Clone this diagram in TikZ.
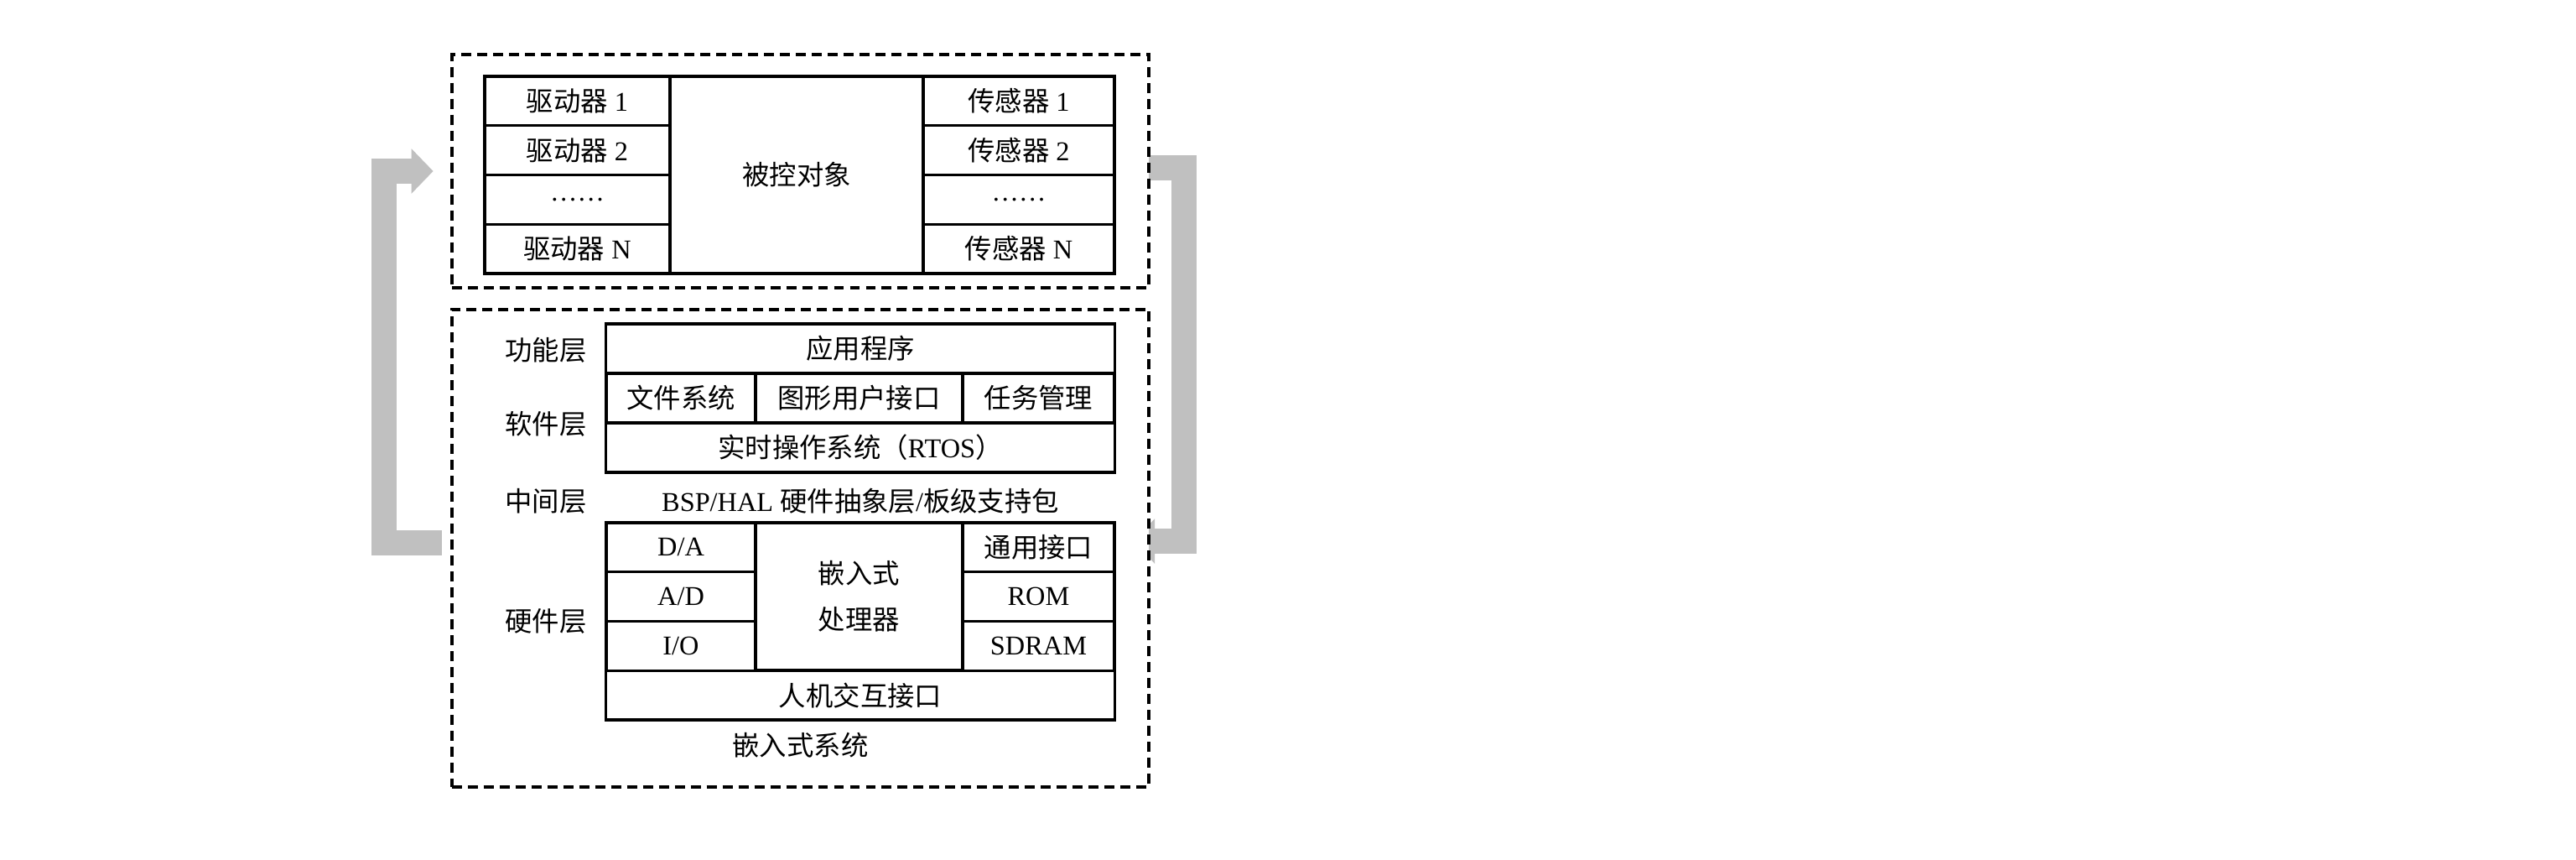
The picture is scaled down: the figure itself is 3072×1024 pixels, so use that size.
\documentclass[tikz,border=0pt]{standalone}
\usepackage{fontspec}
\setmainfont{Liberation Serif}
\newfontfamily\cjk{Noto Sans CJK SC}
\newcommand\zh[1]{{\cjk #1}}
\usetikzlibrary{arrows.meta}
\pgfdeclarelayer{background}
\pgfsetlayers{background,main}
\definecolor{flowgray}{HTML}{C0C0C0}
\begin{document}
\begin{tikzpicture}[x=0.01cm,y=-0.01cm,
  txt/.style={font=\fontsize{9.2}{15.6}\selectfont, inner sep=0pt, align=center},
  cell/.style={txt, draw, line width=0.9pt},
  wl/.style={minimum width=2.21cm},
  wm/.style={minimum width=3.02cm},
  wr/.style={minimum width=2.28cm},
  wa/.style={minimum width=1.78cm},
  wb/.style={minimum width=2.47cm},
  wc/.style={minimum width=1.81cm},
  wfull/.style={minimum width=6.06cm},
  hrow/.style={minimum height=0.5875cm},
  dbox/.style={draw, fill=white, line width=1.2pt, dash pattern=on 3.4pt off 2pt, minimum width=8.31cm},
  flow/.style={draw=flowgray, line width=0.3cm, line join=miter, -{Triangle[length=0.26cm,width=0.52cm]}}
]
\begin{pgfonlayer}{background}
\fill[white] (0,0) rectangle (3072,1024);
\end{pgfonlayer}
\useasboundingbox (0,0) rectangle (3072,1024);

% dashed frames
\node[dbox, minimum height=2.78cm] (top) at (954.5,204) {};
\node[dbox, minimum height=5.69cm] (bot) at (954.5,653.5) {};

% controlled object table
\node[cell, wl, hrow] (d1) at (688.5,120.4) {\zh{驱动器} 1};
\node[cell, wl, hrow] (d2) at (688.5,179.1) {\zh{驱动器} 2};
\node[cell, wl, hrow] (d3) at (688.5,237.9) {};
\node[txt] (d3t) at (688.5,237.9) {……};
\node[cell, wl, hrow] (dn) at (688.5,296.6) {\zh{驱动器} N};
\node[cell, wm, minimum height=2.35cm] (obj) at (950,208.5) {\zh{被控对象}};
\node[cell, wr, hrow] (s1) at (1215,120.4) {\zh{传感器} 1};
\node[cell, wr, hrow] (s2) at (1215,179.1) {\zh{传感器} 2};
\node[cell, wr, hrow] (s3) at (1215,237.9) {};
\node[txt] (s3t) at (1215,237.9) {……};
\node[cell, wr, hrow] (sn) at (1215,296.6) {\zh{传感器} N};

% software
\node[cell, wfull, minimum height=0.59cm] (app) at (1026,415.5) {\zh{应用程序}};
\node[cell, wa, minimum height=0.59cm] (fs) at (812,474.5) {\zh{文件系统}};
\node[cell, wb, minimum height=0.59cm] (gui) at (1024.5,474.5) {\zh{图形用户接口}};
\node[cell, wc, minimum height=0.59cm] (task) at (1238.5,474.5) {\zh{任务管理}};
\node[cell, wfull, minimum height=0.59cm] (rtos) at (1026,533.5) {\zh{实时操作系统（}RTOS\zh{）}};

% layer labels
\node[txt] (l1) at (651,417) {\zh{功能层}};
\node[txt] (l2) at (651,505) {\zh{软件层}};
\node[txt] (l3) at (651,597) {\zh{中间层}};
\node[txt] (l4) at (651,740) {\zh{硬件层}};
\node[txt] (bsp) at (1026,597) {BSP/HAL \zh{硬件抽象层}/\zh{板级支持包}};

% hardware
\node[cell, wa, hrow] (da) at (812,652.4) {D/A};
\node[cell, wa, hrow] (ad) at (812,711.1) {A/D};
\node[cell, wa, hrow] (io) at (812,769.9) {I/O};
\node[cell, wb, minimum height=1.76cm] (cpu) at (1024.5,711) {\zh{嵌入式}\\\zh{处理器}};
\node[cell, wc, hrow] (gen) at (1238.5,652.4) {\zh{通用接口}};
\node[cell, wc, hrow] (rom) at (1238.5,711.1) {ROM};
\node[cell, wc, hrow] (sdram) at (1238.5,769.9) {SDRAM};
\node[cell, wfull, hrow] (hmi) at (1026,828.6) {\zh{人机交互接口}};
\node[txt] (sys) at (954.5,888) {\zh{嵌入式系统}};

% feedback arrows
\coordinate (lstart) at (527,647);
\coordinate (rstart) at (1360,200);
\coordinate (rend) at (1351,645);
\begin{pgfonlayer}{background}
\draw[flow] (lstart) -- (458,647) |- ([xshift=-0.2cm]top.west);
\draw[flow] (rstart) -| (1411.5,645) -- (rend);
\end{pgfonlayer}
\end{tikzpicture}
\end{document}
